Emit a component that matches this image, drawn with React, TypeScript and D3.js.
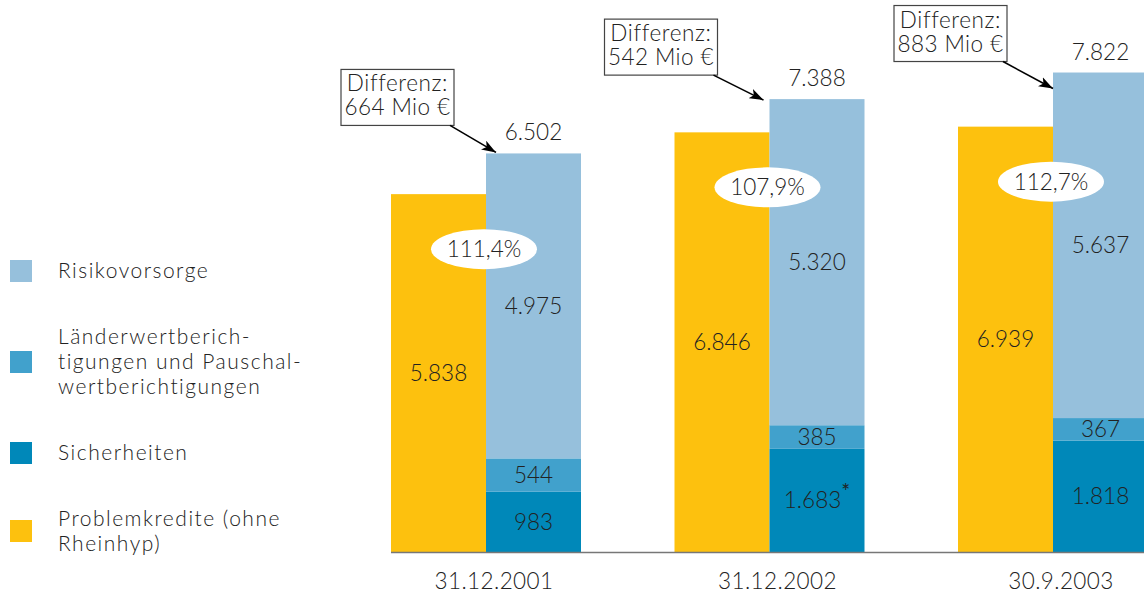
import { useEffect } from "react"
import * as d3 from "d3"

// Stichtage
const dates = ["31.12.2001", "31.12.2002", "30.9.2003"]

// Werte in Mio €
const problemkredite = [5838, 6846, 6939]
const sicherheiten = [983, 1683, 1818]
const laenderwb = [544, 385, 367]
const risikovorsorge = [4975, 5320, 5637]
const totals = [6502, 7388, 7822]
const coverage = ["111,4%", "107,9%", "112,7%"]
const differenz = [664, 542, 883]

// annotation box placement relative to the covered bar (layout only)
const boxLayout = [
  { dx: -145, dy: -84, ex: 10, ey: -1 },
  { dx: -165, dy: -80, ex: -6, ey: 1 },
  { dx: -159, dy: -67, ex: 0, ey: 16 },
]

const legendItems = [
  { key: "risiko", lines: ["Risikovorsorge"], y: 271 },
  { key: "laender", lines: ["Länderwertberich-", "tigungen und Pauschal-", "wertberichtigungen"], y: 362 },
  { key: "sicher", lines: ["Sicherheiten"], y: 453 },
  { key: "problem", lines: ["Problemkredite (ohne", "Rheinhyp)"], y: 531 },
]

const colors: Record<string, string> = {
  problem: "#FDC10E",
  sicher: "#0088B9",
  laender: "#41A1CC",
  risiko: "#96C0DC",
}

const FONT = "Lato, 'Liberation Sans', Arial, sans-serif"
const TEXT = "#222"

const fmt = (v: number) => d3.format(",")(v).replace(/,/g, ".")

export default function App() {
  useEffect(() => {
    document.body.style.margin = "0"
  }, [])

  const width = 1144
  const height = 595

  const x = d3.scaleBand<string>().domain(dates).range([391, 1148]).paddingInner(0.3298).paddingOuter(0)
  const sub = d3.scaleBand<string>().domain(["problem", "cover"]).range([0, x.bandwidth()]).padding(0)
  const y = d3.scaleLinear().domain([0, 9005]).range([552, 0])

  const stackData = dates.map((d, i) => ({
    date: d,
    sicher: sicherheiten[i],
    laender: laenderwb[i],
    risiko: risikovorsorge[i],
  }))
  const stack = d3.stack<any>().keys(["sicher", "laender", "risiko"])(stackData)

  return (
    <svg width={width} height={height} style={{ display: "block", fontFamily: FONT }}>
      <defs>
        <marker id="arrow" viewBox="0 0 14 10" refX="14" refY="5" markerWidth="9" markerHeight="6.5" orient="auto" markerUnits="strokeWidth">
          <path d="M0,0 L14,5 L0,10 L3.5,5 z" fill="#000" />
        </marker>
      </defs>

      {/* Problemkredite bars */}
      {dates.map((d, i) => {
        const x0 = (x(d) ?? 0) + (sub("problem") ?? 0)
        return (
          <g key={"p" + d}>
            <rect x={x0} y={y(problemkredite[i])} width={sub.bandwidth()} height={y(0) - y(problemkredite[i])} fill={colors.problem} />
            <text x={x0 + sub.bandwidth() / 2} y={(y(problemkredite[i]) + y(0)) / 2 + 8} textAnchor="middle" fontSize={22.5} fontWeight={300} fill={TEXT}>
              {fmt(problemkredite[i])}
            </text>
          </g>
        )
      })}

      {/* stacked coverage bars */}
      {stack.map((layer) => (
        <g key={layer.key}>
          {layer.map((seg, i) => {
            const x0 = (x(dates[i]) ?? 0) + (sub("cover") ?? 0)
            const top = y(seg[1])
            const bot = y(seg[0])
            const val = seg[1] - seg[0]
            return (
              <g key={layer.key + i}>
                <rect x={x0} y={top} width={sub.bandwidth()} height={bot - top} fill={colors[layer.key]} />
                <text x={x0 + sub.bandwidth() / 2} y={(top + bot) / 2 + 8} textAnchor="middle" fontSize={22.5} fontWeight={300} fill={TEXT}>
                  {fmt(val)}
                  {layer.key === "sicher" && i === 1 ? (
                    <tspan fontSize={21} fontWeight={400} dy={-9}>*</tspan>
                  ) : null}
                </text>
              </g>
            )
          })}
        </g>
      ))}

      {/* totals, coverage ellipses, Differenz boxes */}
      {dates.map((d, i) => {
        const cx = (x(d) ?? 0) + (sub("cover") ?? 0)
        const top = y(totals[i])
        const L = boxLayout[i]
        const bx = cx + L.dx
        const by = top + L.dy
        const bw = 113
        const bh = 56
        const ellY = y(problemkredite[i]) + 55
        return (
          <g key={"a" + d}>
            <text x={cx + sub.bandwidth() / 2} y={top - 13} textAnchor="middle" fontSize={22.5} fontWeight={300} fill={TEXT}>
              {fmt(totals[i])}
            </text>
            <ellipse cx={cx - 2} cy={ellY} rx={53} ry={20} fill="#fff" />
            <text x={cx - 2} y={ellY + 8} textAnchor="middle" fontSize={22.5} fontWeight={300} fill={TEXT}>
              {coverage[i]}
            </text>
            <rect x={bx} y={by} width={bw} height={bh} fill="#fff" stroke="#444" strokeWidth={1.2} />
            <text x={bx + bw / 2} y={by + 22} textAnchor="middle" fontSize={22.5} fontWeight={300} letterSpacing={0.6} fill={TEXT}>
              Differenz:
            </text>
            <text x={bx + bw / 2} y={by + 46} textAnchor="middle" fontSize={22.5} fontWeight={300} letterSpacing={0.4} fill={TEXT}>
              {differenz[i]} Mio €
            </text>
            <line x1={bx + bw - 4} y1={by + bh} x2={cx + L.ex} y2={top + L.ey} stroke="#000" strokeWidth={1.6} markerEnd="url(#arrow)" />
          </g>
        )
      })}

      {/* baseline */}
      <line x1={391} x2={1144} y1={y(0) + 0.5} y2={y(0) + 0.5} stroke="#777" strokeWidth={1.5} />

      {/* x labels */}
      {dates.map((d) => (
        <text key={"x" + d} x={(x(d) ?? 0) + x.bandwidth() / 2 + 8} y={589} textAnchor="middle" fontSize={22.5} fontWeight={300} letterSpacing={0.4} fill={TEXT}>
          {d}
        </text>
      ))}

      {/* legend */}
      {legendItems.map((it) => {
        const lh = 25
        const first = it.y - ((it.lines.length - 1) * lh) / 2 + 7
        return (
          <g key={it.key}>
            <rect x={10} y={it.y - 11} width={22} height={22} fill={colors[it.key]} />
            {it.lines.map((ln, j) => (
              <text key={j} x={58} y={first + j * lh} fontSize={21} fontWeight={300} letterSpacing={1.5} fill={TEXT}>
                {ln}
              </text>
            ))}
          </g>
        )
      })}
    </svg>
  )
}
